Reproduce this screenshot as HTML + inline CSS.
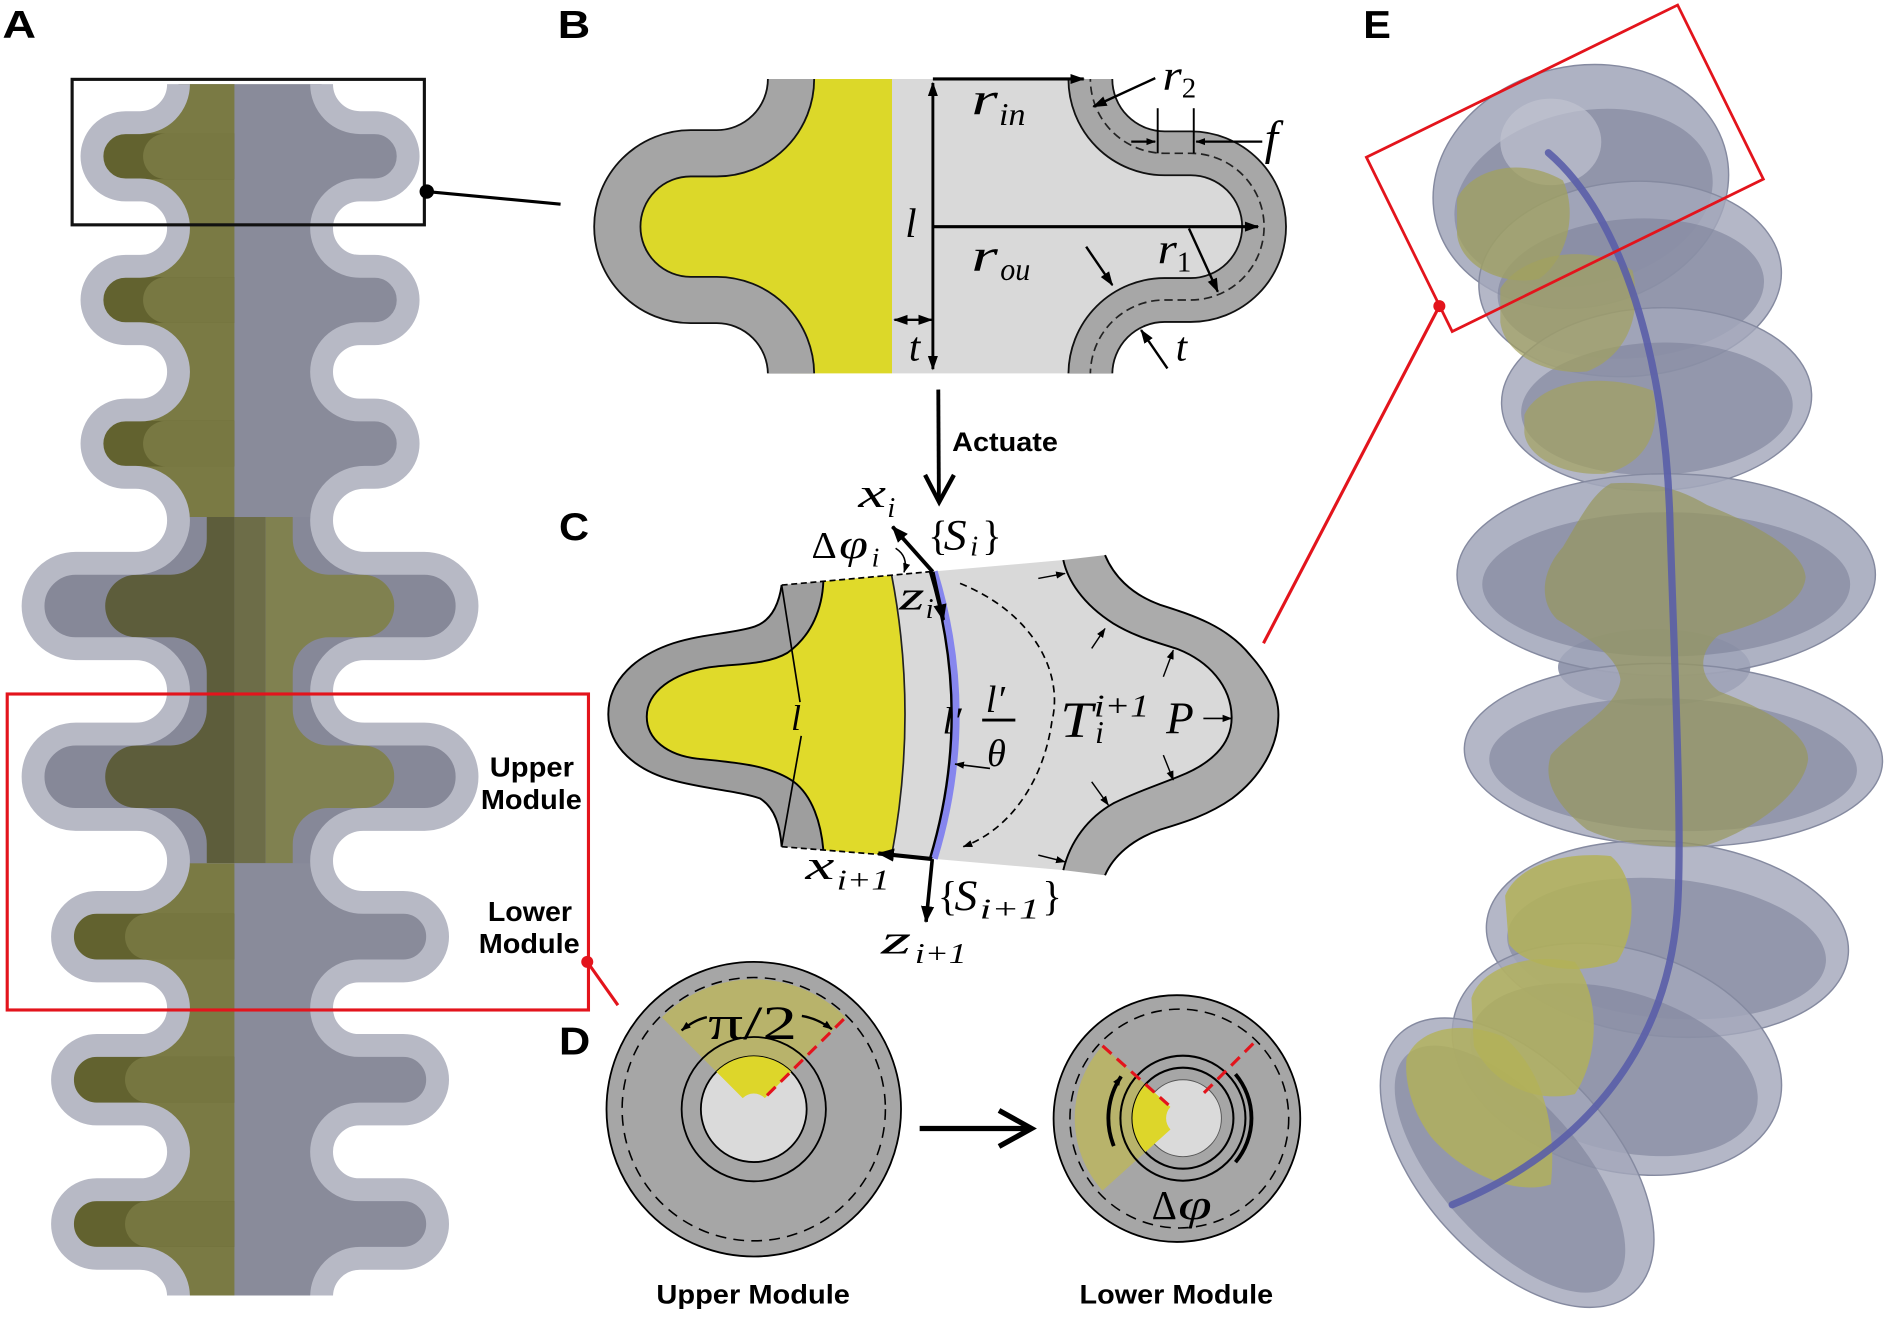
<!DOCTYPE html>
<html><head><meta charset="utf-8"><title>figure</title>
<style>
html,body{margin:0;padding:0;background:#fff;overflow:hidden}
svg{display:block}
.m{font-family:"Liberation Serif",serif;font-style:italic}
.u{font-family:"Liberation Serif",serif}
.b{font-family:"Liberation Sans",sans-serif;font-weight:bold}
</style></head><body>
<svg width="1885" height="1325" viewBox="0 0 1568 1102" preserveAspectRatio="none" xmlns="http://www.w3.org/2000/svg">
<defs>
<marker id="ah" viewBox="0 0 12 10" refX="11" refY="5" markerWidth="12" markerHeight="10" markerUnits="userSpaceOnUse" orient="auto"><path d="M0 0.8 L12 5 L0 9.2 Z" fill="#000"/></marker>
<marker id="ah2" viewBox="0 0 12 10" refX="11" refY="5" markerWidth="12" markerHeight="10" markerUnits="userSpaceOnUse" orient="auto-start-reverse"><path d="M0 0.8 L12 5 L0 9.2 Z" fill="#000"/></marker>
<marker id="as" viewBox="0 0 8 7" refX="7.5" refY="3.5" markerWidth="8" markerHeight="7" markerUnits="userSpaceOnUse" orient="auto"><path d="M0 0.5 L8 3.5 L0 6.5 Z" fill="#000"/></marker>
<marker id="ab" viewBox="0 0 14 12" refX="13" refY="6" markerWidth="14" markerHeight="12" markerUnits="userSpaceOnUse" orient="auto"><path d="M0 0.5 L14 6 L0 11.5 Z" fill="#000"/></marker>
<clipPath id="aY"><rect x="0" y="70" width="430" height="1007.5"/></clipPath>
<clipPath id="aQc"><path d="M 267.5 40 L 267.5 70 A 32 32 0 0 0 299.5 102 L 311.5 102 A 28 28 0 0 1 311.5 158 L 299.25 158 A 31.75 31.75 0 0 0 267.5 189.75 A 31.75 31.75 0 0 0 299.25 221.5 L 311.5 221.5 A 28 28 0 0 1 311.5 277.5 L 299.25 277.5 A 31.75 31.75 0 0 0 267.5 309.25 A 31.75 31.75 0 0 0 299.25 341 L 311.5 341 A 28 28 0 0 1 311.5 397 L 303.25 397 A 35.75 35.75 0 0 0 267.5 432.75 A 35.75 35.75 0 0 0 303.25 468.5 L 353 468.5 A 35.5 35.5 0 0 1 353 539.5 L 303 539.5 A 35.5 35.5 0 0 0 267.5 575 A 35.5 35.5 0 0 0 303 610.5 L 353 610.5 A 35.5 35.5 0 0 1 353 681.5 L 302 681.5 A 34.5 34.5 0 0 0 267.5 716 A 34.5 34.5 0 0 0 302 750.5 L 335.5 750.5 A 28.5 28.5 0 0 1 335.5 807.5 L 298.5 807.5 A 31 31 0 0 0 267.5 838.5 A 31 31 0 0 0 298.5 869.5 L 335.5 869.5 A 28.5 28.5 0 0 1 335.5 926.5 L 299 926.5 A 31.5 31.5 0 0 0 267.5 958 A 31.5 31.5 0 0 0 299 989.5 L 335.5 989.5 A 28.5 28.5 0 0 1 335.5 1046.5 L 299.5 1046.5 A 32 32 0 0 0 267.5 1078.5 L 267.5 1110 L 148.5 1110 L 148.5 1078.5 A 32 32 0 0 0 116.5 1046.5 L 80.5 1046.5 A 28.5 28.5 0 0 1 80.5 989.5 L 117 989.5 A 31.5 31.5 0 0 0 148.5 958 A 31.5 31.5 0 0 0 117 926.5 L 80.5 926.5 A 28.5 28.5 0 0 1 80.5 869.5 L 117.5 869.5 A 31 31 0 0 0 148.5 838.5 A 31 31 0 0 0 117.5 807.5 L 80.5 807.5 A 28.5 28.5 0 0 1 80.5 750.5 L 114 750.5 A 34.5 34.5 0 0 0 148.5 716 A 34.5 34.5 0 0 0 114 681.5 L 63 681.5 A 35.5 35.5 0 0 1 63 610.5 L 113 610.5 A 35.5 35.5 0 0 0 148.5 575 A 35.5 35.5 0 0 0 113 539.5 L 63 539.5 A 35.5 35.5 0 0 1 63 468.5 L 112.75 468.5 A 35.75 35.75 0 0 0 148.5 432.75 A 35.75 35.75 0 0 0 112.75 397 L 104.5 397 A 28 28 0 0 1 104.5 341 L 116.75 341 A 31.75 31.75 0 0 0 148.5 309.25 A 31.75 31.75 0 0 0 116.75 277.5 L 104.5 277.5 A 28 28 0 0 1 104.5 221.5 L 116.75 221.5 A 31.75 31.75 0 0 0 148.5 189.75 A 31.75 31.75 0 0 0 116.75 158 L 104.5 158 A 28 28 0 0 1 104.5 102 L 116.5 102 A 32 32 0 0 0 148.5 70 L 148.5 40 Z"/></clipPath>
<clipPath id="oBig"><path d="M 243.5 430 L 243.5 448 A 30 30 0 0 0 273.5 478 L 302 478 A 26 26 0 0 1 302 530 L 273.5 530 A 30 30 0 0 0 243.5 560 L 243.5 590 A 30 30 0 0 0 273.5 620 L 302 620 A 26 26 0 0 1 302 672 L 273.5 672 A 30 30 0 0 0 243.5 702 L 243.5 718 L 172 718 L 172 702 A 30 30 0 0 0 142 672 L 113.5 672 A 26 26 0 0 1 113.5 620 L 142 620 A 30 30 0 0 0 172 590 L 172 560 A 30 30 0 0 0 142 530 L 113.5 530 A 26 26 0 0 1 113.5 478 L 142 478 A 30 30 0 0 0 172 448 L 172 430 Z"/></clipPath>
<clipPath id="bclip"><rect x="480" y="65.7" width="620" height="244.8"/></clipPath>
</defs>

<!-- ================= PANEL A ================= -->
<g clip-path="url(#aY)">
 <g clip-path="url(#aQc)">
  <rect x="0" y="40" width="430" height="1080" fill="#898b9a"/>
  <rect x="0" y="60" width="195" height="370" fill="#7a7a44"/>
  <rect x="0" y="111" width="195" height="38" fill="#62622f"/>
  <path d="M195 111 L138 111 A19 19 0 0 0 138 149 L195 149 Z" fill="#787842"/>
  <rect x="0" y="230.5" width="195" height="38" fill="#62622f"/>
  <path d="M195 230.5 L138 230.5 A19 19 0 0 0 138 268.5 L195 268.5 Z" fill="#787842"/>
  <rect x="0" y="350" width="195" height="38" fill="#62622f"/>
  <path d="M195 350 L138 350 A19 19 0 0 0 138 388 L195 388 Z" fill="#787842"/>
  <rect x="0" y="430" width="430" height="288" fill="#868898"/>
  <g clip-path="url(#oBig)">
   <rect x="0" y="430" width="195" height="288" fill="#5d5d3b"/>
   <rect x="195" y="430" width="26" height="288" fill="#6d6d48"/>
   <rect x="221" y="430" width="200" height="288" fill="#808150"/>
  </g>
  <rect x="0" y="718" width="195" height="400" fill="#7a7a44"/>
  <rect x="0" y="760" width="195" height="38" fill="#62622f"/>
  <path d="M195 760 L123 760 A19 19 0 0 0 123 798 L195 798 Z" fill="#767640"/>
  <rect x="0" y="879" width="195" height="38" fill="#62622f"/>
  <path d="M195 879 L123 879 A19 19 0 0 0 123 917 L195 917 Z" fill="#767640"/>
  <rect x="0" y="999" width="195" height="38" fill="#62622f"/>
  <path d="M195 999 L123 999 A19 19 0 0 0 123 1037 L195 1037 Z" fill="#767640"/>
 </g>
 <path d="M 267.5 40 L 267.5 70 A 32 32 0 0 0 299.5 102 L 311.5 102 A 28 28 0 0 1 311.5 158 L 299.25 158 A 31.75 31.75 0 0 0 267.5 189.75 A 31.75 31.75 0 0 0 299.25 221.5 L 311.5 221.5 A 28 28 0 0 1 311.5 277.5 L 299.25 277.5 A 31.75 31.75 0 0 0 267.5 309.25 A 31.75 31.75 0 0 0 299.25 341 L 311.5 341 A 28 28 0 0 1 311.5 397 L 303.25 397 A 35.75 35.75 0 0 0 267.5 432.75 A 35.75 35.75 0 0 0 303.25 468.5 L 353 468.5 A 35.5 35.5 0 0 1 353 539.5 L 303 539.5 A 35.5 35.5 0 0 0 267.5 575 A 35.5 35.5 0 0 0 303 610.5 L 353 610.5 A 35.5 35.5 0 0 1 353 681.5 L 302 681.5 A 34.5 34.5 0 0 0 267.5 716 A 34.5 34.5 0 0 0 302 750.5 L 335.5 750.5 A 28.5 28.5 0 0 1 335.5 807.5 L 298.5 807.5 A 31 31 0 0 0 267.5 838.5 A 31 31 0 0 0 298.5 869.5 L 335.5 869.5 A 28.5 28.5 0 0 1 335.5 926.5 L 299 926.5 A 31.5 31.5 0 0 0 267.5 958 A 31.5 31.5 0 0 0 299 989.5 L 335.5 989.5 A 28.5 28.5 0 0 1 335.5 1046.5 L 299.5 1046.5 A 32 32 0 0 0 267.5 1078.5 L 267.5 1110 L 148.5 1110 L 148.5 1078.5 A 32 32 0 0 0 116.5 1046.5 L 80.5 1046.5 A 28.5 28.5 0 0 1 80.5 989.5 L 117 989.5 A 31.5 31.5 0 0 0 148.5 958 A 31.5 31.5 0 0 0 117 926.5 L 80.5 926.5 A 28.5 28.5 0 0 1 80.5 869.5 L 117.5 869.5 A 31 31 0 0 0 148.5 838.5 A 31 31 0 0 0 117.5 807.5 L 80.5 807.5 A 28.5 28.5 0 0 1 80.5 750.5 L 114 750.5 A 34.5 34.5 0 0 0 148.5 716 A 34.5 34.5 0 0 0 114 681.5 L 63 681.5 A 35.5 35.5 0 0 1 63 610.5 L 113 610.5 A 35.5 35.5 0 0 0 148.5 575 A 35.5 35.5 0 0 0 113 539.5 L 63 539.5 A 35.5 35.5 0 0 1 63 468.5 L 112.75 468.5 A 35.75 35.75 0 0 0 148.5 432.75 A 35.75 35.75 0 0 0 112.75 397 L 104.5 397 A 28 28 0 0 1 104.5 341 L 116.75 341 A 31.75 31.75 0 0 0 148.5 309.25 A 31.75 31.75 0 0 0 116.75 277.5 L 104.5 277.5 A 28 28 0 0 1 104.5 221.5 L 116.75 221.5 A 31.75 31.75 0 0 0 148.5 189.75 A 31.75 31.75 0 0 0 116.75 158 L 104.5 158 A 28 28 0 0 1 104.5 102 L 116.5 102 A 32 32 0 0 0 148.5 70 L 148.5 40 Z" fill="none" stroke="#b7b9c5" stroke-width="19" stroke-linejoin="round"/>
</g>
<rect x="60" y="66" width="293" height="121" fill="none" stroke="#111" stroke-width="2.6"/>
<circle cx="355" cy="159.3" r="6" fill="#000"/>
<line x1="355" y1="159.3" x2="466.3" y2="169.8" stroke="#000" stroke-width="2.6"/>
<rect x="6" y="577.2" width="483.5" height="262.8" fill="none" stroke="#e3141c" stroke-width="2.6"/>
<circle cx="488.5" cy="800" r="5" fill="#e3141c"/>
<line x1="488.5" y1="800" x2="514" y2="836" stroke="#e3141c" stroke-width="2.6"/>
<text class="b" x="442.4" y="646" font-size="23" text-anchor="middle" textLength="70" lengthAdjust="spacingAndGlyphs">Upper</text>
<text class="b" x="442" y="673" font-size="23" text-anchor="middle" textLength="84" lengthAdjust="spacingAndGlyphs">Module</text>
<text class="b" x="440.8" y="766" font-size="23" text-anchor="middle" textLength="70" lengthAdjust="spacingAndGlyphs">Lower</text>
<text class="b" x="440.2" y="792.5" font-size="23" text-anchor="middle" textLength="84" lengthAdjust="spacingAndGlyphs">Module</text>
<text class="b" x="2" y="31.5" font-size="32" textLength="28" lengthAdjust="spacingAndGlyphs">A</text>

<!-- ================= PANEL B ================= -->
<text class="b" x="464" y="31.5" font-size="32" textLength="27" lengthAdjust="spacingAndGlyphs">B</text>
<g clip-path="url(#bclip)">
 <path d="M 658 50 L 658 65.7 A 61.8 61.8 0 0 1 596.2 127.5 L 574.5 127.5 A 61 61 0 0 0 513.5 188.5 A 61 61 0 0 0 574.5 249.5 L 596.2 249.5 A 61.8 61.8 0 0 1 658 311.3 L 658 330 L 742 330 L 742 50 Z" fill="#dcd829"/>
 <path d="M 742 50 L 907 50 L 907 65.7 A 61.8 61.8 0 0 0 968.8 127.5 L 990.5 127.5 A 61 61 0 0 1 1051.5 188.5 A 61 61 0 0 1 990.5 249.5 L 968.8 249.5 A 61.8 61.8 0 0 0 907 311.3 L 907 330 L 742 330 Z" fill="#d9d9d9"/>
 <path d="M 658 50 L 658 65.7 A 61.8 61.8 0 0 1 596.2 127.5 L 574.5 127.5 A 61 61 0 0 0 513.5 188.5 A 61 61 0 0 0 574.5 249.5 L 596.2 249.5 A 61.8 61.8 0 0 1 658 311.3 L 658 330" fill="none" stroke="#111" stroke-width="40"/>
 <path d="M 658 50 L 658 65.7 A 61.8 61.8 0 0 1 596.2 127.5 L 574.5 127.5 A 61 61 0 0 0 513.5 188.5 A 61 61 0 0 0 574.5 249.5 L 596.2 249.5 A 61.8 61.8 0 0 1 658 311.3 L 658 330" fill="none" stroke="#a5a5a5" stroke-width="37"/>
 <path d="M 907 50 L 907 65.7 A 61.8 61.8 0 0 0 968.8 127.5 L 990.5 127.5 A 61 61 0 0 1 1051.5 188.5 A 61 61 0 0 1 990.5 249.5 L 968.8 249.5 A 61.8 61.8 0 0 0 907 311.3 L 907 330" fill="none" stroke="#111" stroke-width="38"/>
 <path d="M 907 50 L 907 65.7 A 61.8 61.8 0 0 0 968.8 127.5 L 990.5 127.5 A 61 61 0 0 1 1051.5 188.5 A 61 61 0 0 1 990.5 249.5 L 968.8 249.5 A 61.8 61.8 0 0 0 907 311.3 L 907 330" fill="none" stroke="#a7a7a7" stroke-width="35"/>
 <path d="M 907 50 L 907 65.7 A 61.8 61.8 0 0 0 968.8 127.5 L 990.5 127.5 A 61 61 0 0 1 1051.5 188.5 A 61 61 0 0 1 990.5 249.5 L 968.8 249.5 A 61.8 61.8 0 0 0 907 311.3 L 907 330" fill="none" stroke="#222" stroke-width="1.4" stroke-dasharray="7 4"/>
</g>
<line x1="776" y1="69" x2="776" y2="307" stroke="#000" stroke-width="2.4" marker-start="url(#ah2)" marker-end="url(#ah2)"/>
<line x1="776" y1="65.7" x2="901.5" y2="65.7" stroke="#000" stroke-width="2.6" marker-end="url(#ah)"/>
<line x1="776" y1="188.5" x2="1046.5" y2="188.5" stroke="#000" stroke-width="2.6" marker-end="url(#ah)"/>
<line x1="989" y1="190" x2="1013" y2="242.6" stroke="#000" stroke-width="2" marker-end="url(#ah)"/>
<line x1="903.5" y1="205.2" x2="925.3" y2="237.1" stroke="#000" stroke-width="2" marker-end="url(#ah)"/>
<line x1="961" y1="65" x2="909.5" y2="88.7" stroke="#000" stroke-width="2" marker-end="url(#ah)"/>
<line x1="963" y1="90" x2="963" y2="127.5" stroke="#000" stroke-width="1.6"/>
<line x1="993" y1="90" x2="993" y2="127.5" stroke="#000" stroke-width="1.6"/>
<line x1="941" y1="117.8" x2="961" y2="117.8" stroke="#000" stroke-width="1.8" marker-end="url(#as)"/>
<line x1="1050" y1="117.8" x2="995" y2="117.8" stroke="#000" stroke-width="1.8" marker-end="url(#as)"/>
<line x1="744" y1="266" x2="775" y2="266" stroke="#000" stroke-width="2" marker-start="url(#ah2)" marker-end="url(#ah2)"/>
<line x1="971.1" y1="306.4" x2="949.2" y2="274.5" stroke="#000" stroke-width="2" marker-end="url(#ah)"/>
<text class="m" x="753" y="197" font-size="34">l</text>
<text class="m" x="808" y="95" font-size="38" textLength="22" lengthAdjust="spacingAndGlyphs">r</text><text class="m" x="831" y="104" font-size="26" textLength="22" lengthAdjust="spacingAndGlyphs">in</text>
<text class="m" x="808" y="225" font-size="38" textLength="22" lengthAdjust="spacingAndGlyphs">r</text><text class="m" x="832" y="233" font-size="26" textLength="25" lengthAdjust="spacingAndGlyphs">ou</text>
<text class="m" x="963" y="219" font-size="36" textLength="16" lengthAdjust="spacingAndGlyphs">r</text><text class="u" x="979" y="226" font-size="24">1</text>
<text class="m" x="967" y="75" font-size="36" textLength="16" lengthAdjust="spacingAndGlyphs">r</text><text class="u" x="983" y="81" font-size="24">2</text>
<text class="m" x="1052" y="128" font-size="40">f</text>
<text class="m" x="756" y="300" font-size="34">t</text>
<text class="m" x="978" y="300" font-size="34">t</text>
<line x1="780.5" y1="324" x2="781" y2="416" stroke="#000" stroke-width="3.2"/>
<polyline points="769.5,395 781.2,417.5 793.5,395" fill="none" stroke="#000" stroke-width="3.6"/>
<text class="b" x="792" y="375" font-size="22" textLength="88" lengthAdjust="spacingAndGlyphs">Actuate</text>

<!-- ================= PANEL C ================= -->
<text class="b" x="465" y="449" font-size="32" textLength="25" lengthAdjust="spacingAndGlyphs">C</text>
<path d="M 741.7 478.4 L 773.6 475.5 L 884.5 465.8 C 888 482, 900 502, 926 518.5 C 945 530, 962 534, 980 540 C 1005 550, 1024 570, 1024.5 596 C 1025 620, 1006 636, 980 646 C 960 654, 942 660, 926 668.2 C 905 680, 890 700, 884.5 723.7 L 773.6 714 L 741.7 711.5 Z" fill="#d9d9d9"/>
<path d="M 919.2 461.7 C 926 478, 940 494, 965 503 C 990 511, 1020 520, 1040 545 C 1056 563, 1064 580, 1063.4 596 C 1063 620, 1050 645, 1025 664 C 1005 678, 985 684, 965 690 C 942 698, 926 712, 919.2 727.9 L 884.5 723.7 C 890 700, 905 680, 926 668.2 C 942 660, 960 654, 980 646 C 1006 636, 1025 620, 1024.5 596 C 1024 570, 1005 550, 980 540 C 962 534, 945 530, 926 518.5 C 900 502, 888 482, 884.5 465.8 Z" fill="#ababab"/>
<path d="M 919.2 461.7 C 926 478, 940 494, 965 503 C 990 511, 1020 520, 1040 545 C 1056 563, 1064 580, 1063.4 596 C 1063 620, 1050 645, 1025 664 C 1005 678, 985 684, 965 690 C 942 698, 926 712, 919.2 727.9" fill="none" stroke="#000" stroke-width="1.6"/>
<path d="M 884.5 465.8 C 888 482, 900 502, 926 518.5 C 945 530, 962 534, 980 540 C 1005 550, 1024 570, 1024.5 596 C 1025 620, 1006 636, 980 646 C 960 654, 942 660, 926 668.2 C 905 680, 890 700, 884.5 723.7" fill="none" stroke="#000" stroke-width="1.6"/>
<path d="M 650.2 486.6 C 648 502, 642 516, 628 521 C 610 527, 585 527, 560 535 C 530 545, 506 565, 506 594 C 506 622, 530 641, 560 649 C 585 656, 615 658, 632 664 C 645 672, 649 688, 650.2 704.2 L 700 708.2 L 700 482.1 Z" fill="#9e9e9e"/>
<path d="M 684.9 483.5 C 684 505, 676 528, 655 543 C 638 553, 612 552, 590 555 C 560 560, 538 575, 538 596 C 538 615, 555 628, 580 631 C 610 634, 640 636, 660 650 C 676 662, 683 685, 684.9 707 L 741.7 711.5 Q 763.9 593.3 741.7 478.4 Z" fill="#e0da2a"/>
<path d="M 650.2 486.6 C 648 502, 642 516, 628 521 C 610 527, 585 527, 560 535 C 530 545, 506 565, 506 594 C 506 622, 530 641, 560 649 C 585 656, 615 658, 632 664 C 645 672, 649 688, 650.2 704.2" fill="none" stroke="#000" stroke-width="1.6"/>
<path d="M 684.9 483.5 C 684 505, 676 528, 655 543 C 638 553, 612 552, 590 555 C 560 560, 538 575, 538 596 C 538 615, 555 628, 580 631 C 610 634, 640 636, 660 650 C 676 662, 683 685, 684.9 707" fill="none" stroke="#000" stroke-width="1.6"/>
<path d="M 741.7 478.4 Q 763.9 593.3 741.7 711.5" fill="none" stroke="#222" stroke-width="1.4"/>
<line x1="650.2" y1="486.6" x2="773.6" y2="475.5" stroke="#000" stroke-width="1.4" stroke-dasharray="5 3"/>
<line x1="650.2" y1="704.2" x2="773.6" y2="714" stroke="#000" stroke-width="1.4" stroke-dasharray="5 3"/>
<line x1="650.2" y1="486.6" x2="665.5" y2="584" stroke="#000" stroke-width="1.4"/>
<line x1="666.5" y1="612" x2="650.2" y2="704.2" stroke="#000" stroke-width="1.4"/>
<text class="m" x="658" y="607" font-size="30">l</text>
<path d="M 776.5 475.5 Q 813 594.7 776.5 714" fill="none" stroke="#8686ee" stroke-width="7"/>
<path d="M 773.6 475.5 Q 809.6 594.7 773.6 714" fill="none" stroke="#000" stroke-width="2"/>
<line x1="775.9" y1="475.6" x2="742.4" y2="438" stroke="#000" stroke-width="3.2" marker-end="url(#ab)"/>
<line x1="775.9" y1="475.6" x2="784.7" y2="515.7" stroke="#000" stroke-width="3" marker-end="url(#ab)"/>
<line x1="775.5" y1="714.5" x2="730.6" y2="709.8" stroke="#000" stroke-width="3.4" marker-end="url(#ab)"/>
<line x1="775.5" y1="714.5" x2="770.3" y2="766.7" stroke="#000" stroke-width="3" marker-end="url(#ab)"/>
<path d="M 745 456 Q 756 463 752 476" fill="none" stroke="#000" stroke-width="1.3" marker-end="url(#as)"/>
<path d="M 798.6 485.2 C 860 510, 885 560, 875 600 C 868 650, 840 690, 801.3 704.2" fill="none" stroke="#000" stroke-width="1.4" stroke-dasharray="6 4" marker-end="url(#as)"/>
<line x1="823.5" y1="639.1" x2="794.4" y2="635.5" stroke="#000" stroke-width="1.4" marker-end="url(#as)"/>
<line x1="817" y1="598.9" x2="844.6" y2="598.9" stroke="#000" stroke-width="2.4"/>
<line x1="1001" y1="597.5" x2="1024.5" y2="597.5" stroke="#000" stroke-width="1.4" marker-end="url(#as)"/>
<line x1="863.7" y1="481.1" x2="886" y2="476.9" stroke="#000" stroke-width="1.2" marker-end="url(#as)"/>
<line x1="863.7" y1="711.2" x2="886" y2="716.8" stroke="#000" stroke-width="1.2" marker-end="url(#as)"/>
<line x1="908.1" y1="539.3" x2="919.2" y2="522.7" stroke="#000" stroke-width="1.2" marker-end="url(#as)"/>
<line x1="967.7" y1="562.9" x2="976" y2="540.7" stroke="#000" stroke-width="1.2" marker-end="url(#as)"/>
<line x1="967.7" y1="628" x2="976" y2="648.8" stroke="#000" stroke-width="1.2" marker-end="url(#as)"/>
<line x1="908.1" y1="650.2" x2="922" y2="669.6" stroke="#000" stroke-width="1.2" marker-end="url(#as)"/>
<text class="m" x="714" y="421.5" font-size="34" textLength="23" lengthAdjust="spacingAndGlyphs">x</text><text class="m" x="738" y="430" font-size="24">i</text>
<text class="u" x="772" y="457" font-size="34">{</text><text class="m" x="785" y="457" font-size="36" textLength="19" lengthAdjust="spacingAndGlyphs">S</text><text class="m" x="807" y="462" font-size="24">i</text><text class="u" x="817" y="457" font-size="34">}</text>
<text class="u" x="675" y="464" font-size="32" textLength="21" lengthAdjust="spacingAndGlyphs">Δ</text><text class="m" x="698" y="464" font-size="34" textLength="24" lengthAdjust="spacingAndGlyphs">φ</text><text class="m" x="725" y="471" font-size="23">i</text>
<text class="m" x="748" y="507" font-size="34" textLength="21" lengthAdjust="spacingAndGlyphs">z</text><text class="m" x="770" y="514" font-size="24">i</text>
<text class="m" x="784" y="610" font-size="32">l′</text>
<text class="m" x="820" y="592" font-size="32">l′</text>
<text class="m" x="821" y="637" font-size="32">θ</text>
<text class="m" x="882" y="612.8" font-size="42" textLength="27" lengthAdjust="spacingAndGlyphs">T</text>
<text class="m" x="910" y="596" font-size="26" textLength="46" lengthAdjust="spacingAndGlyphs">i+1</text>
<text class="m" x="911" y="618" font-size="26">i</text>
<text class="m" x="970" y="610" font-size="38" textLength="23" lengthAdjust="spacingAndGlyphs">P</text>
<text class="m" x="670" y="731" font-size="34" textLength="24" lengthAdjust="spacingAndGlyphs">x</text><text class="m" x="696" y="740" font-size="24" textLength="44" lengthAdjust="spacingAndGlyphs">i+1</text>
<text class="u" x="780" y="757" font-size="34">{</text><text class="m" x="794" y="757" font-size="36" textLength="19" lengthAdjust="spacingAndGlyphs">S</text><text class="m" x="815" y="764" font-size="24" textLength="50" lengthAdjust="spacingAndGlyphs">i+1</text><text class="u" x="867" y="757" font-size="34">}</text>
<text class="m" x="733" y="793" font-size="34" textLength="25" lengthAdjust="spacingAndGlyphs">z</text><text class="m" x="761" y="801" font-size="24" textLength="43" lengthAdjust="spacingAndGlyphs">i+1</text>

<!-- ================= PANEL D ================= -->
<text class="b" x="465" y="877" font-size="32" textLength="26" lengthAdjust="spacingAndGlyphs">D</text>
<circle cx="627" cy="922.5" r="122.5" fill="#a6a6a6" stroke="#000" stroke-width="1.5"/>
<circle cx="627" cy="922.5" r="109.5" fill="none" stroke="#000" stroke-width="1.3" stroke-dasharray="9 6"/>
<path d="M 595.9 891.4 L 550.6 846.1 A 108 108 0 0 1 703.4 846.1 L 658.1 891.4 A 44 44 0 0 0 595.9 891.4 Z" fill="#b8b36b"/>
<circle cx="627" cy="922.5" r="60" fill="none" stroke="#000" stroke-width="1.5"/>
<circle cx="627" cy="922.5" r="44" fill="#dadada" stroke="#000" stroke-width="1.5"/>
<path d="M 617.8 913.3 L 595.9 891.4 A 44 44 0 0 1 658.1 891.4 L 636.2 913.3 A 13 13 0 0 0 617.8 913.3 Z" fill="#ddd62a"/>
<line x1="638" y1="911" x2="703.4" y2="846.1" stroke="#e3141c" stroke-width="2.6" stroke-dasharray="10 6"/>
<text class="u" x="589" y="864" font-size="40" textLength="74" lengthAdjust="spacingAndGlyphs">π/2</text>
<path d="M 588 846 Q 578 848 567 857" fill="none" stroke="#000" stroke-width="2" marker-end="url(#as)"/>
<path d="M 667 845 Q 680 847 692 856" fill="none" stroke="#000" stroke-width="2" marker-end="url(#as)"/>
<line x1="765" y1="938.6" x2="857" y2="938.6" stroke="#000" stroke-width="4.4"/>
<polyline points="831,923.5 858,938.6 831,953.5" fill="none" stroke="#000" stroke-width="4.4"/>
<circle cx="979" cy="930.3" r="102.6" fill="#a6a6a6" stroke="#000" stroke-width="1.5"/>
<circle cx="981" cy="930.3" r="91" fill="none" stroke="#000" stroke-width="1.3" stroke-dasharray="9 6"/>
<path d="M 952.8 901.9 L 917.1 869.8 A 90 90 0 0 0 917.1 990.2 L 952.8 958.1 A 42 42 0 0 1 952.8 901.9 Z" fill="#b8b36b"/>
<circle cx="984" cy="930" r="32" fill="#dadada" stroke="#555" stroke-width="0.8"/>
<circle cx="984" cy="930" r="42" fill="none" stroke="#000" stroke-width="1.7"/>
<circle cx="984" cy="930" r="52" fill="none" stroke="#000" stroke-width="1.7"/>
<path d="M 973.6 920.6 L 952.8 901.9 A 42 42 0 0 0 952.8 958.1 L 973.6 939.4 A 14 14 0 0 1 973.6 920.6 Z" fill="#ddd62a"/>
<line x1="917.1" y1="869.8" x2="972" y2="919" stroke="#e3141c" stroke-width="2.6" stroke-dasharray="10 6"/>
<line x1="1042.5" y1="867.9" x2="998.2" y2="912.2" stroke="#e3141c" stroke-width="2.6" stroke-dasharray="10 6"/>
<path d="M 926.5 953.2 A 62 62 0 0 1 932.6 895.3" fill="none" stroke="#000" stroke-width="3.2" marker-end="url(#as)"/>
<path d="M 1027.7 893.4 A 57 57 0 0 1 1027.7 966.6" fill="none" stroke="#000" stroke-width="3.2"/>
<text class="u" x="958" y="1014" font-size="34" textLength="21" lengthAdjust="spacingAndGlyphs">Δ</text><text class="m" x="980" y="1014" font-size="36" textLength="28" lengthAdjust="spacingAndGlyphs">φ</text>
<text class="b" x="546" y="1084" font-size="22" textLength="161" lengthAdjust="spacingAndGlyphs">Upper Module</text>
<text class="b" x="898" y="1084" font-size="22" textLength="161" lengthAdjust="spacingAndGlyphs">Lower Module</text>

<!-- ================= PANEL E ================= -->
<text class="b" x="1134" y="31.5" font-size="32" textLength="23" lengthAdjust="spacingAndGlyphs">E</text>
<g>
 <g transform="rotate(-13 1315 155)"><ellipse cx="1315" cy="155" rx="124" ry="100" fill="#a3a7bb" fill-opacity=".88" stroke="#858aa0" stroke-width="1.2"/><ellipse cx="1315" cy="165" rx="109" ry="72" fill="#7d8299" fill-opacity=".6"/></g>
 <ellipse cx="1290" cy="118" rx="42" ry="36" fill="#c0c3d0" fill-opacity=".7"/>
 <g transform="rotate(-4 1356 232)"><ellipse cx="1356" cy="232" rx="126" ry="81" fill="#a3a7bb" fill-opacity=".82" stroke="#858aa0" stroke-width="1.2"/><ellipse cx="1356" cy="240" rx="111" ry="58" fill="#7d8299" fill-opacity=".6"/></g>
 <g transform="rotate(-2 1378 332)"><ellipse cx="1378" cy="332" rx="129" ry="76" fill="#a3a7bb" fill-opacity=".82" stroke="#858aa0" stroke-width="1.2"/><ellipse cx="1378" cy="340" rx="113" ry="55" fill="#7d8299" fill-opacity=".6"/></g>
 <ellipse cx="1376" cy="555" rx="80" ry="32" fill="#959ab0"/>
 <ellipse cx="1386" cy="478" rx="174" ry="84" fill="#a3a7bb" fill-opacity=".88" stroke="#858aa0" stroke-width="1.2"/><ellipse cx="1386" cy="486" rx="153" ry="60" fill="#7d8299" fill-opacity=".6"/>
 <g transform="rotate(2 1392 628)"><ellipse cx="1392" cy="628" rx="174" ry="76" fill="#a3a7bb" fill-opacity=".82" stroke="#858aa0" stroke-width="1.2"/><ellipse cx="1392" cy="636" rx="153" ry="55" fill="#7d8299" fill-opacity=".6"/></g>
 <g transform="rotate(5 1387 781)"><ellipse cx="1387" cy="781" rx="151" ry="81" fill="#a3a7bb" fill-opacity=".82" stroke="#858aa0" stroke-width="1.2"/><ellipse cx="1387" cy="789" rx="133" ry="58" fill="#7d8299" fill-opacity=".6"/></g>
 <g transform="rotate(16 1345 881)"><ellipse cx="1345" cy="881" rx="140" ry="92" fill="#a3a7bb" fill-opacity=".82" stroke="#858aa0" stroke-width="1.2"/><ellipse cx="1345" cy="890" rx="123" ry="66" fill="#7d8299" fill-opacity=".6"/></g>
 <g transform="rotate(48 1262 967)"><ellipse cx="1262" cy="967" rx="145" ry="80" fill="#a3a7bb" fill-opacity=".82" stroke="#858aa0" stroke-width="1.2"/><ellipse cx="1262" cy="975" rx="128" ry="58" fill="#7d8299" fill-opacity=".6"/></g>
 <path d="M 1212 165 C 1225 140, 1265 130, 1300 150 C 1312 175, 1305 215, 1280 232 C 1250 238, 1215 222, 1212 195 Z" fill="#a2a15e" fill-opacity=".75"/>
 <path d="M 1248 240 C 1265 212, 1320 200, 1358 225 C 1366 260, 1355 295, 1320 309 C 1285 312, 1252 295, 1248 268 Z" fill="#a2a15e" fill-opacity=".7"/>
 <path d="M 1268 345 C 1280 318, 1330 308, 1375 325 C 1382 355, 1372 385, 1335 394 C 1300 396, 1270 380, 1268 360 Z" fill="#a2a15e" fill-opacity=".7"/>
 <path d="M 1340 402 C 1370 400, 1395 405, 1420 420 C 1470 440, 1500 460, 1502 480 C 1500 505, 1460 520, 1430 528 C 1415 540, 1410 560, 1430 575 C 1470 590, 1505 610, 1504 632 C 1500 660, 1460 690, 1420 703 C 1390 706, 1350 704, 1320 690 C 1295 670, 1283 650, 1290 628 C 1310 605, 1345 590, 1348 565 C 1345 545, 1320 530, 1295 515 C 1280 500, 1282 475, 1300 455 C 1315 430, 1325 410, 1340 402 Z" fill="#97975c" fill-opacity=".7"/>
 <path d="M 1252 745 C 1262 720, 1300 708, 1340 712 C 1362 730, 1362 775, 1345 800 C 1310 812, 1270 805, 1255 785 Z" fill="#b3b158" fill-opacity=".85"/>
 <path d="M 1224 830 C 1232 805, 1270 792, 1310 800 C 1332 830, 1330 880, 1310 910 C 1275 918, 1240 900, 1226 870 Z" fill="#b3b158" fill-opacity=".8"/>
 <path d="M 1170 880 C 1180 855, 1215 848, 1250 862 C 1285 890, 1295 940, 1290 985 C 1260 995, 1215 975, 1190 945 C 1175 925, 1168 900, 1170 880 Z" fill="#b3b158" fill-opacity=".8"/>
 <path d="M 1288 127 C 1350 180, 1385 300, 1389 430 C 1393 560, 1400 700, 1395 760 C 1385 880, 1310 960, 1208 1002" fill="none" stroke="#5a5ea8" stroke-width="6" stroke-opacity=".9" stroke-linecap="round"/>
</g>
<polygon points="1136.6,130.8 1395.5,4.2 1466.8,149 1208,275.7" fill="none" stroke="#e3141c" stroke-width="2.3"/>
<circle cx="1197.3" cy="254.6" r="5" fill="#e3141c"/>
<line x1="1197.3" y1="254.6" x2="1051" y2="535" stroke="#e3141c" stroke-width="2.6"/>
</svg>
</body></html>
